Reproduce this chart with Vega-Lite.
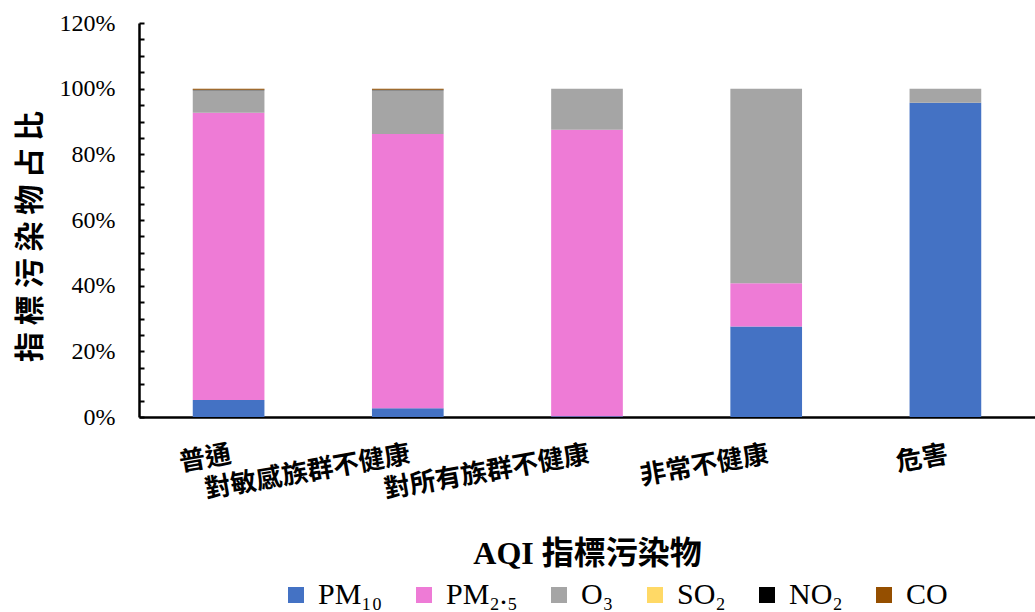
{
  "$schema": "https://vega.github.io/schema/vega-lite/v6.json",
  "autosize": "none",
  "padding": {"left": 139, "top": 23, "right": 0, "bottom": 195},
  "width": 896,
  "height": 394,
  "background": "white",
  "data": {
    "values": [
      {"level": "普通", "pollutant": "PM10", "share": 0.052, "k": 1},
      {"level": "普通", "pollutant": "PM2.5", "share": 0.875, "k": 2},
      {"level": "普通", "pollutant": "O3", "share": 0.068, "k": 3},
      {"level": "普通", "pollutant": "SO2", "share": 0.0005, "k": 4},
      {"level": "普通", "pollutant": "NO2", "share": 0.001, "k": 5},
      {"level": "普通", "pollutant": "CO", "share": 0.0035, "k": 6},
      {"level": "對敏感族群不健康", "pollutant": "PM10", "share": 0.027, "k": 1},
      {"level": "對敏感族群不健康", "pollutant": "PM2.5", "share": 0.835, "k": 2},
      {"level": "對敏感族群不健康", "pollutant": "O3", "share": 0.133, "k": 3},
      {"level": "對敏感族群不健康", "pollutant": "SO2", "share": 0.0005, "k": 4},
      {"level": "對敏感族群不健康", "pollutant": "NO2", "share": 0.001, "k": 5},
      {"level": "對敏感族群不健康", "pollutant": "CO", "share": 0.0035, "k": 6},
      {"level": "對所有族群不健康", "pollutant": "PM10", "share": 0.002, "k": 1},
      {"level": "對所有族群不健康", "pollutant": "PM2.5", "share": 0.873, "k": 2},
      {"level": "對所有族群不健康", "pollutant": "O3", "share": 0.125, "k": 3},
      {"level": "非常不健康", "pollutant": "PM10", "share": 0.276, "k": 1},
      {"level": "非常不健康", "pollutant": "PM2.5", "share": 0.131, "k": 2},
      {"level": "非常不健康", "pollutant": "O3", "share": 0.593, "k": 3},
      {"level": "危害", "pollutant": "PM10", "share": 0.957, "k": 1},
      {"level": "危害", "pollutant": "O3", "share": 0.043, "k": 3}
    ]
  },
  "mark": {"type": "bar"},
  "encoding": {
    "x": {
      "field": "level",
      "type": "nominal",
      "sort": ["普通", "對敏感族群不健康", "對所有族群不健康", "非常不健康", "危害"],
      "scale": {"paddingInner": 0.6, "paddingOuter": 0.3},
      "axis": {
        "title": "AQI 指標污染物",
        "titleFont": "Liberation Serif, Noto Sans CJK TC",
        "titleFontSize": 32,
        "titleFontWeight": "bold",
        "titleColor": "black",
        "titlePadding": 36,
        "labelAngle": -10,
        "labelAlign": "right",
        "labelBaseline": "top",
        "labelFont": "Noto Sans CJK TC",
        "labelFontSize": 26,
        "labelFontWeight": "bold",
        "labelColor": "black",
        "labelPadding": 24,
        "labelLimit": 400,
        "ticks": false,
        "domainColor": "black",
        "domainWidth": 2.5,
        "grid": false
      }
    },
    "y": {
      "field": "share",
      "type": "quantitative",
      "stack": "zero",
      "scale": {"domain": [0, 1.2], "nice": false},
      "axis": {
        "title": "指 標 污 染 物  占 比",
        "titleFont": "Noto Sans CJK TC",
        "titleFontSize": 30,
        "titleFontWeight": "bold",
        "titleColor": "black",
        "titleX": -109,
        "titleY": 213,
        "titleAngle": -90,
        "titleAlign": "center",
        "titleBaseline": "middle",
        "values": [0, 0.05, 0.1, 0.15, 0.2, 0.25, 0.3, 0.35, 0.4, 0.45, 0.5, 0.55, 0.6, 0.65, 0.7, 0.75, 0.8, 0.85, 0.9, 0.95, 1.0, 1.05, 1.1, 1.15, 1.2],
        "labelExpr": "round(datum.value * 100) % 20 == 0 ? format(datum.value, '.0%') : ''",
        "labelFont": "Liberation Serif, serif",
        "labelFontSize": 24,
        "labelColor": "black",
        "labelPadding": 29,
        "tickSize": -5,
        "tickColor": "black",
        "tickWidth": 2,
        "domainColor": "black",
        "domainWidth": 2.5,
        "grid": false
      }
    },
    "color": {
      "field": "pollutant",
      "type": "nominal",
      "scale": {
        "domain": ["PM10", "PM2.5", "O3", "SO2", "NO2", "CO"],
        "range": ["#4472C4", "#EE7BD6", "#A5A5A5", "#FFD966", "#000000", "#954F00"]
      },
      "legend": {
        "orient": "none",
        "direction": "horizontal",
        "legendX": 142,
        "legendY": 557,
        "title": null,
        "symbolType": "square",
        "symbolSize": 256,
        "symbolStrokeWidth": 0,
        "symbolOpacity": 1,
        "labelFont": "Liberation Serif, DejaVu Serif",
        "labelFontSize": 30,
        "labelColor": "black",
        "labelOffset": 7,
        "labelLimit": 200,
        "columnPadding": 26,
        "labelExpr": "{'PM10': 'PM₁₀', 'PM2.5': '  PM₂.₅', 'O3': 'O₃', 'SO2': 'SO₂', 'NO2': 'NO₂', 'CO': 'CO'}[datum.label]"
      }
    },
    "order": {"field": "k", "type": "quantitative"}
  },
  "config": {
    "view": {"stroke": null},
    "axis": {"labelOverlap": false}
  }
}
